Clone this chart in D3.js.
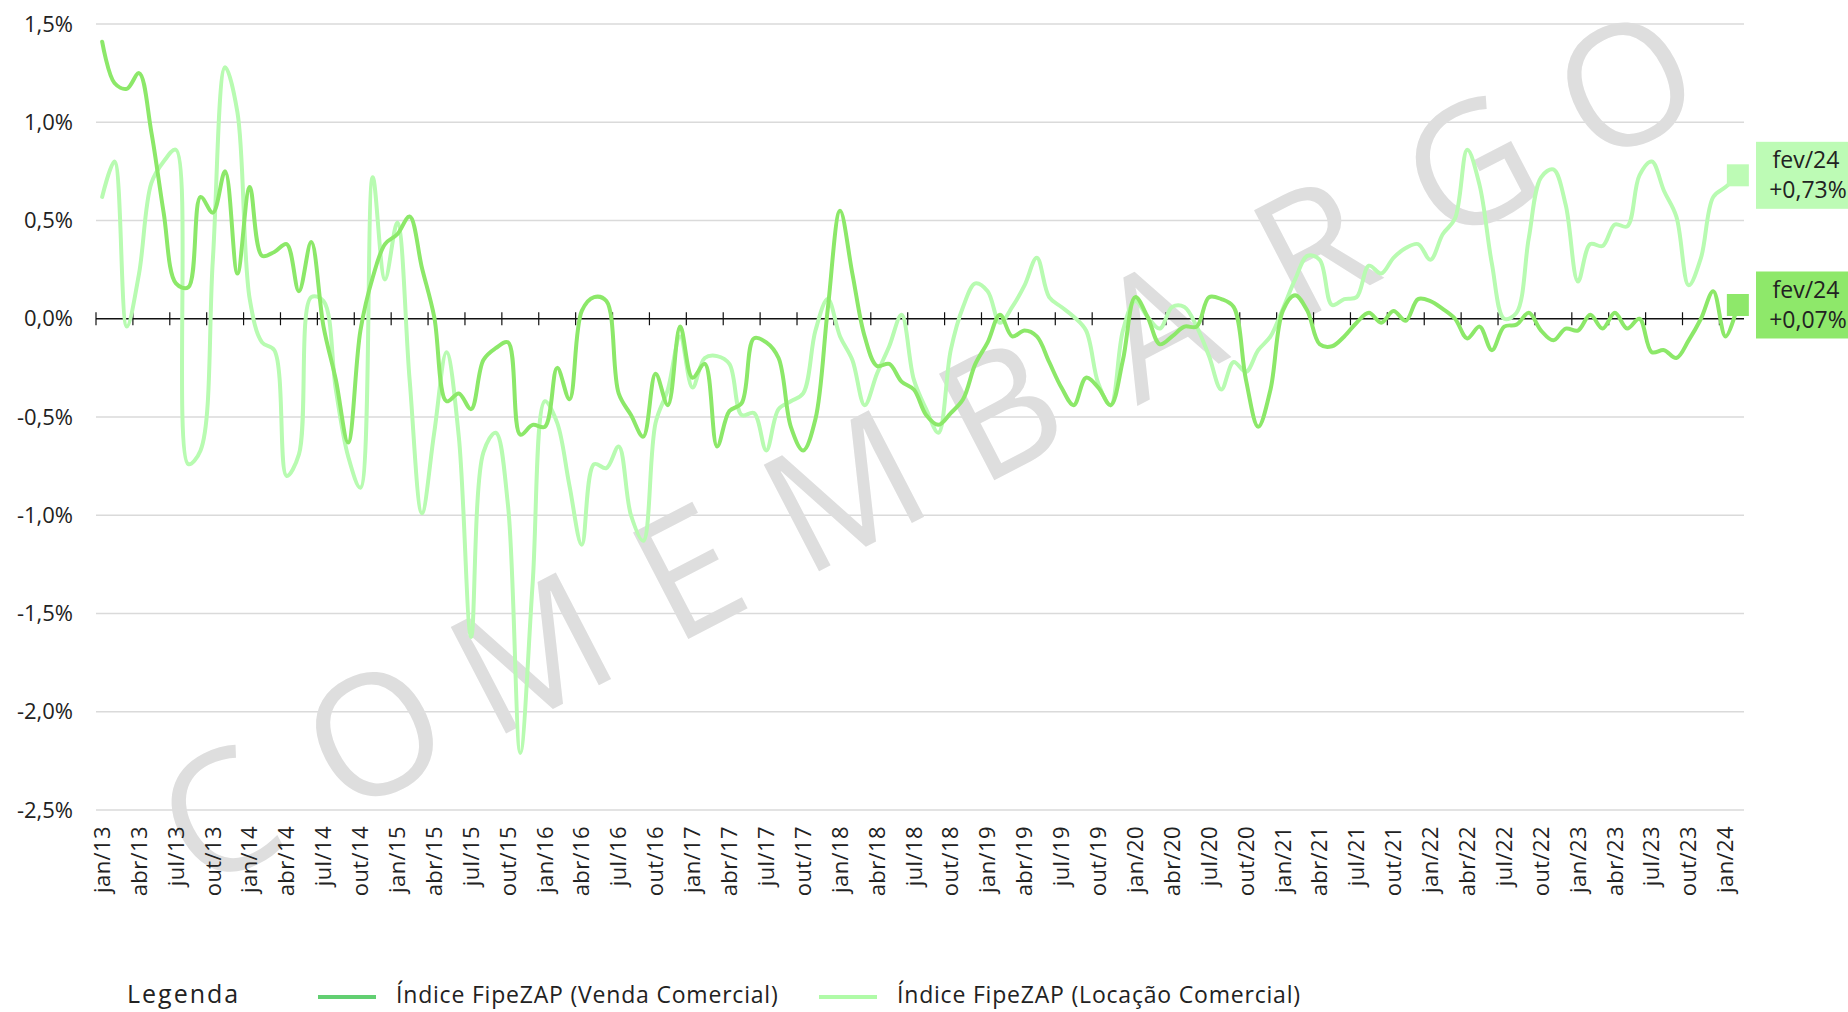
<!DOCTYPE html>
<html>
<head>
<meta charset="utf-8">
<script src="https://cdn.jsdelivr.net/npm/d3@7"></script>
<style>
  body { margin: 0; background: #fff; }
  text { font-family: "Open Sans", sans-serif; fill: #222; }
</style>
</head>
<body>
<div id="chart-area"></div>
<script>
// categories: jan/13 .. fev/24
const monthNames = ["jan", "fev", "mar", "abr", "mai", "jun", "jul", "ago", "set", "out", "nov", "dez"];
const firstYear = 13;
const pointCount = 134;

// monthly change, %
const venda = [
  1.41, 1.20, 1.17, 1.25, 0.95, 0.54, 0.18, 0.16, 0.62, 0.54, 0.75, 0.23,
  0.67, 0.32, 0.34, 0.38, 0.14, 0.39, -0.04, -0.31, -0.63, -0.06, 0.21, 0.38,
  0.43, 0.52, 0.26, 0.01, -0.42, -0.38, -0.46, -0.21, -0.15, -0.12, -0.59, -0.54,
  -0.55, -0.25, -0.41, 0.04, 0.11, 0.09, -0.38, -0.49, -0.60, -0.28, -0.44, -0.04,
  -0.30, -0.23, -0.65, -0.47, -0.43, -0.10, -0.12, -0.20, -0.55, -0.67, -0.51, 0.05,
  0.55, 0.23, -0.09, -0.24, -0.23, -0.32, -0.36, -0.49, -0.54, -0.48, -0.41, -0.23,
  -0.12, 0.02, -0.09, -0.06, -0.09, -0.22, -0.35, -0.44, -0.30, -0.35, -0.44, -0.21,
  0.11, 0.01, -0.13, -0.09, -0.04, -0.04, 0.11, 0.10, 0.06, -0.31, -0.55, -0.36,
  0.04, 0.12, 0.04, -0.13, -0.14, -0.09, -0.02, 0.03, -0.02, 0.04, -0.01, 0.10,
  0.09, 0.05, 0.00, -0.10, -0.04, -0.16, -0.04, -0.03, 0.03, -0.06, -0.11, -0.05,
  -0.06, 0.02, -0.05, 0.03, -0.05, 0.00, -0.17, -0.16, -0.20, -0.11, 0.00, 0.14,
  -0.09, 0.07
];

const locacao = [
  0.62, 0.80, -0.04, 0.23, 0.69, 0.80, 0.86, -0.74, -0.67, 0.30, 1.28, 1.05,
  0.10, -0.12, -0.16, -0.80, -0.69, 0.11, 0.09, -0.36, -0.70, -0.86, 0.72, 0.20,
  0.49, -0.31, -0.99, -0.58, -0.17, -0.60, -1.62, -0.68, -0.58, -0.95, -2.21, -1.35,
  -0.42, -0.53, -0.85, -1.15, -0.74, -0.76, -0.65, -1.00, -1.13, -0.53, -0.36, -0.09,
  -0.35, -0.20, -0.19, -0.23, -0.49, -0.48, -0.67, -0.46, -0.42, -0.38, -0.06, 0.10,
  -0.09, -0.21, -0.44, -0.28, -0.14, 0.02, -0.31, -0.46, -0.58, -0.16, 0.06, 0.18,
  0.14, -0.02, 0.06, 0.17, 0.31, 0.11, 0.06, 0.01, -0.06, -0.33, -0.44, -0.06,
  0.09, 0.01, -0.05, 0.06, 0.06, -0.04, -0.19, -0.36, -0.22, -0.27, -0.16, -0.09,
  0.05, 0.20, 0.32, 0.30, 0.07, 0.10, 0.11, 0.27, 0.23, 0.31, 0.36, 0.38,
  0.30, 0.43, 0.51, 0.86, 0.68, 0.28, 0.00, 0.03, 0.41, 0.72, 0.76, 0.58,
  0.19, 0.38, 0.37, 0.48, 0.47, 0.73, 0.80, 0.65, 0.52, 0.17, 0.31, 0.62,
  0.67, 0.73
];

const yTicks = [1.5, 1, 0.5, 0, -0.5, -1, -1.5, -2, -2.5];
const seriesNames = ["Índice FipeZAP (Venda Comercial)", "Índice FipeZAP (Locação Comercial)"];
const seriesColors = ["#8ce869", "#b8fbb1"];
const legendColors = ["#62cf72", "#b0fba8"];
const watermarkLetters = ["C", "O", "M", "E", "M", "B", "A", "R", "G", "O"];

const categories = d3.range(pointCount).map(i => monthNames[i % 12] + "/" + (firstYear + Math.floor(i / 12)));

// graph area
const canvas = { width: 1848, height: 1012 };
const margin = { left: 96, right: 104, top: 24, bottom: 202 };
const graph = { width: canvas.width - margin.left - margin.right, height: canvas.height - margin.top - margin.bottom };

const svg = d3.select("#chart-area").append("svg").attr("width", canvas.width).attr("height", canvas.height);
const g = svg.append("g").attr("transform", "translate(" + margin.left + "," + margin.top + ")");

// scales
const x = d3.scaleBand().domain(categories).range([0, graph.width]);
const y = d3.scaleLinear().domain([-2.5, 1.5]).range([graph.height, 0]);
const cx = d => x(d) + x.bandwidth() / 2;
const fmt = v => d3.format(".1f")(v).replace(".", ",").replace("−", "-") + "%";

// gridlines
g.selectAll(".grid").data(yTicks.filter(d => d !== 0)).enter().append("line")
  .attr("x1", 0).attr("x2", graph.width)
  .attr("y1", d => y(d)).attr("y2", d => y(d))
  .attr("stroke", "#dadada").attr("stroke-width", 1.6);

g.selectAll(".ylabel").data(yTicks).enter().append("text")
  .attr("x", -23).attr("y", d => y(d)).attr("dy", "0.35em")
  .attr("text-anchor", "end").attr("font-size", 22)
  .text(fmt);

// watermark
const wmStart = { x: 218 - margin.left, y: 815 - margin.top }, wmStep = { x: 156.4, y: -81.2 };
const wmAngle = Math.atan2(wmStep.y, wmStep.x) * 180 / Math.PI;
g.selectAll(".wm").data(watermarkLetters).enter().append("text")
  .attr("transform", (d, i) => "translate(" + (wmStart.x + i * wmStep.x) + "," + (wmStart.y + i * wmStep.y) + ") rotate(" + wmAngle + ")")
  .attr("text-anchor", "middle").attr("dy", "0.36em")
  .attr("font-size", 168).style("fill", "#dedede")
  .text(d => d);

// zero axis with ticks between categories, every 3 months
const zeroY = y(0);
g.append("line").attr("x1", 0).attr("x2", graph.width).attr("y1", zeroY).attr("y2", zeroY)
  .attr("stroke", "#111").attr("stroke-width", 1.4);
const tickIdx = d3.range(0, pointCount, 3);
g.selectAll(".tick").data(tickIdx).enter().append("line")
  .attr("x1", i => x(categories[i])).attr("x2", i => x(categories[i]))
  .attr("y1", zeroY - 6.5).attr("y2", zeroY + 6.5)
  .attr("stroke", "#111").attr("stroke-width", 1.2);

g.selectAll(".xlabel").data(tickIdx).enter().append("text")
  .attr("transform", i => "translate(" + cx(categories[i]) + "," + (graph.height + 16) + ") rotate(-90)")
  .attr("text-anchor", "end").attr("dy", "0.35em").attr("font-size", 22).attr("letter-spacing", 0.4)
  .text(i => categories[i]);

// lines
const line = d3.line().x((d, i) => cx(categories[i])).y(d => y(d)).curve(d3.curveCatmullRom.alpha(0.5));
const series = [venda, locacao];
[1, 0].forEach(s => {
  g.append("path").datum(series[s]).attr("d", line)
    .attr("fill", "none").attr("stroke", seriesColors[s]).attr("stroke-width", 4)
    .attr("stroke-linejoin", "round").attr("stroke-linecap", "round");
});

// end markers + value boxes
const boxColors = ["#8ee86a", "#bdfbb5"];
[1, 0].forEach(s => {
  const last = series[s][pointCount - 1];
  const px = cx(categories[pointCount - 1]), py = y(last);
  g.append("rect").attr("x", px - 11).attr("y", py - 11).attr("width", 22).attr("height", 22).attr("fill", boxColors[s]);
  g.append("rect").attr("x", 1756 - margin.left).attr("y", py - 33.5).attr("width", 110).attr("height", 67).attr("fill", boxColors[s]);
  const t = g.append("text").attr("x", 1806 - margin.left).attr("y", py).attr("text-anchor", "middle").attr("font-size", 23);
  t.append("tspan").attr("x", 1806 - margin.left).attr("dy", "-0.3em").text(categories[pointCount - 1]);
  t.append("tspan").attr("x", 1808 - margin.left).attr("dy", "1.3em").text("+" + d3.format(".2f")(last).replace(".", ",") + "%");
});

// legend
const legend = svg.append("g").attr("transform", "translate(0,995)");
legend.append("text").attr("x", 127).attr("dy", "0.3em").attr("font-size", 25).attr("letter-spacing", 2).text("Legenda");
const legendX = [318, 819];
seriesNames.forEach((name, s) => {
  legend.append("line").attr("x1", legendX[s]).attr("x2", legendX[s] + 58).attr("y1", 2).attr("y2", 2)
    .attr("stroke", legendColors[s]).attr("stroke-width", 4);
  legend.append("text").attr("x", legendX[s] + 78).attr("dy", "0.33em").attr("font-size", 23).attr("letter-spacing", 0.8).text(name);
});
</script>
</body>
</html>
